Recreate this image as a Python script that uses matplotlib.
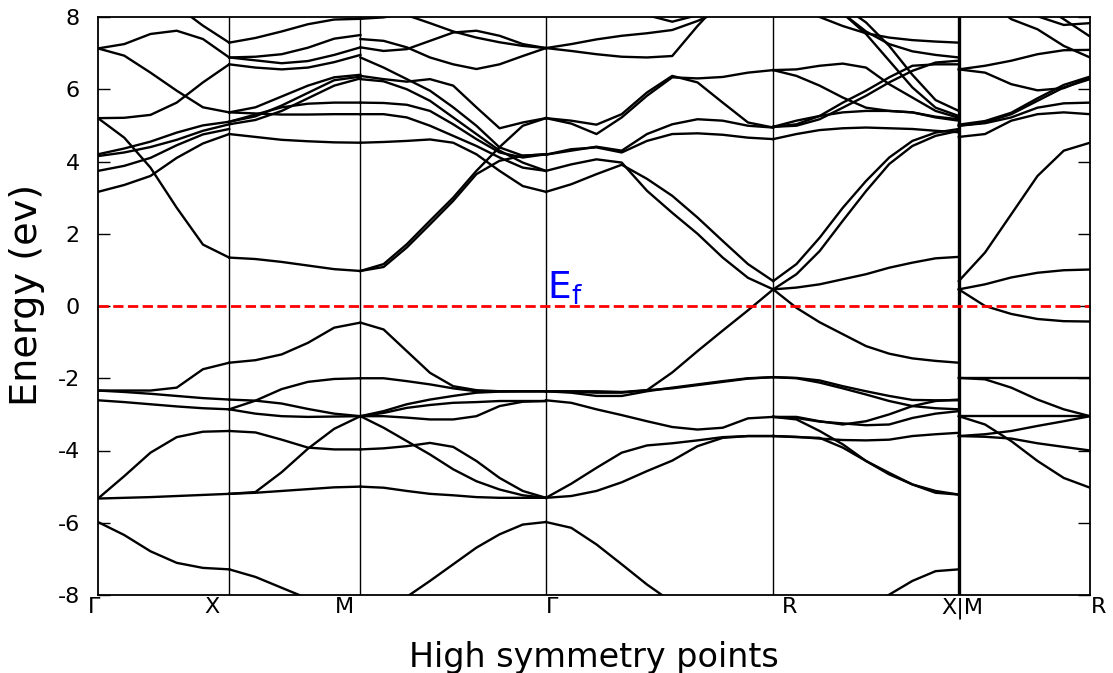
import numpy as np
import matplotlib
matplotlib.use('Agg')
import matplotlib.pyplot as plt

plt.rcParams['axes.unicode_minus'] = False
plt.rcParams['mathtext.fontset'] = 'dejavusans'

# path lengths (2pi/a): G-X, X-M, M-G, G-R, R-X, M-R
seg_len = [0.5, 0.5, np.sqrt(0.5), np.sqrt(0.75), np.sqrt(0.5), 0.5]
k_nodes = np.concatenate([[0.0], np.cumsum(seg_len)])

sym_labels = ['Γ', 'X', 'M', 'Γ', 'R', 'X|M', 'R']
label_k = [-0.015, 0.434, 0.941, 1.730, 2.637, 3.293, 3.814]
yticks = [8, 6, 4, 2, 0, -2, -4, -6, -8]

# energies (eV) read along each segment, evenly spaced in k
gamma_x = [
    [7.13, 7.25, 7.53, 7.62, 7.39, 6.88],
    [7.13, 6.93, 6.46, 5.96, 5.50, 5.36],
    [5.20, 5.21, 5.29, 5.63, 6.19, 6.69],
    [5.20, 4.66, 3.83, 2.72, 1.70, 1.34],
    [9.20, 9.00, 8.70, 8.30, 7.76, 7.29],
    [4.20, 4.36, 4.55, 4.80, 5.00, 5.10],
    [4.15, 4.25, 4.40, 4.60, 4.85, 5.03],
    [3.74, 3.88, 4.10, 4.45, 4.75, 4.90],
    [3.16, 3.35, 3.60, 4.10, 4.50, 4.76],
    [-2.34, -2.34, -2.34, -2.26, -1.75, -1.57],
    [-2.34, -2.38, -2.43, -2.49, -2.55, -2.59],
    [-2.61, -2.66, -2.72, -2.78, -2.83, -2.86],
    [-5.33, -4.71, -4.06, -3.63, -3.48, -3.46],
    [-5.33, -5.31, -5.29, -5.26, -5.23, -5.20],
    [-5.98, -6.34, -6.79, -7.11, -7.25, -7.29],
]

x_m = [
    [7.29, 7.42, 7.60, 7.80, 7.93, 7.95],
    [6.88, 6.90, 6.97, 7.15, 7.40, 7.50],
    [6.88, 6.80, 6.72, 6.78, 6.95, 7.16],
    [6.69, 6.60, 6.55, 6.60, 6.75, 6.95],
    [5.36, 5.50, 5.80, 6.10, 6.33, 6.40],
    [5.10, 5.25, 5.55, 5.90, 6.25, 6.35],
    [5.03, 5.15, 5.40, 5.75, 6.10, 6.30],
    [5.10, 5.30, 5.50, 5.60, 5.63, 5.63],
    [5.36, 5.33, 5.30, 5.30, 5.31, 5.31],
    [4.76, 4.68, 4.60, 4.56, 4.53, 4.52],
    [1.34, 1.30, 1.22, 1.12, 1.02, 0.97],
    [-1.57, -1.50, -1.34, -1.02, -0.60, -0.46],
    [-2.86, -2.62, -2.30, -2.10, -2.02, -2.00],
    [-2.59, -2.62, -2.70, -2.85, -2.98, -3.05],
    [-2.86, -2.98, -3.05, -3.07, -3.06, -3.05],
    [-3.46, -3.50, -3.70, -3.92, -3.97, -3.97],
    [-5.20, -5.15, -4.60, -3.95, -3.40, -3.05],
    [-5.20, -5.17, -5.12, -5.07, -5.02, -5.00],
    [-7.29, -7.50, -7.80, -8.10, -8.40, -8.60],
]

m_gamma = [
    [8.60, 8.35, 8.05, 7.83, 7.60, 7.43, 7.30, 7.20, 7.14],
    [7.39, 7.34, 7.16, 6.88, 6.69, 6.56, 6.69, 6.92, 7.14],
    [7.16, 7.06, 7.11, 7.34, 7.57, 7.62, 7.48, 7.25, 7.14],
    [7.95, 7.99, 8.10, 8.30, 8.50, 8.70, 8.90, 9.00, 9.10],
    [6.88, 6.60, 6.28, 5.96, 5.50, 4.99, 4.39, 4.16, 4.20],
    [6.37, 6.28, 6.21, 6.28, 6.10, 5.50, 4.92, 5.08, 5.20],
    [6.28, 6.22, 6.00, 5.68, 5.22, 4.76, 4.30, 3.97, 3.74],
    [5.63, 5.62, 5.57, 5.40, 5.03, 4.62, 4.25, 4.11, 4.20],
    [5.31, 5.31, 5.22, 4.99, 4.71, 4.43, 4.11, 3.83, 3.74],
    [4.52, 4.54, 4.57, 4.61, 4.52, 4.20, 3.74, 3.32, 3.16],
    [0.97, 1.16, 1.71, 2.36, 3.00, 3.74, 4.40, 4.99, 5.20],
    [0.97, 1.08, 1.62, 2.26, 2.91, 3.65, 4.02, 4.16, 4.20],
    [-0.46, -0.65, -1.25, -1.85, -2.22, -2.33, -2.36, -2.36, -2.36],
    [-2.00, -2.00, -2.08, -2.17, -2.28, -2.36, -2.36, -2.36, -2.36],
    [-3.05, -2.91, -2.72, -2.59, -2.49, -2.40, -2.37, -2.36, -2.36],
    [-3.05, -2.96, -2.82, -2.74, -2.68, -2.66, -2.63, -2.63, -2.63],
    [-3.05, -3.05, -3.09, -3.14, -3.14, -3.05, -2.77, -2.65, -2.63],
    [-3.05, -3.37, -3.74, -4.11, -4.52, -4.85, -5.08, -5.24, -5.31],
    [-3.97, -3.94, -3.88, -3.79, -3.90, -4.29, -4.76, -5.12, -5.31],
    [-5.00, -5.03, -5.12, -5.20, -5.24, -5.29, -5.31, -5.31, -5.31],
    [-8.60, -8.30, -8.05, -7.61, -7.15, -6.69, -6.32, -6.05, -5.98],
]

gamma_r = [
    [7.14, 7.25, 7.38, 7.48, 7.55, 7.64, 7.89, 8.20, 8.50, 8.80],
    [7.14, 7.06, 6.97, 6.90, 6.88, 6.92, 7.75, 8.50, 9.00, 9.30],
    [9.00, 8.80, 8.60, 8.30, 8.05, 7.87, 8.05, 8.40, 8.70, 9.00],
    [5.20, 5.05, 4.76, 5.22, 5.82, 6.33, 6.30, 6.34, 6.46, 6.53],
    [5.20, 5.13, 5.02, 5.31, 5.91, 6.37, 6.19, 5.63, 5.08, 4.94],
    [4.19, 4.30, 4.41, 4.30, 4.76, 5.03, 5.17, 5.13, 4.99, 4.94],
    [4.19, 4.34, 4.39, 4.25, 4.57, 4.76, 4.78, 4.74, 4.66, 4.62],
    [3.74, 3.92, 4.06, 3.97, 3.19, 2.58, 2.00, 1.34, 0.78, 0.46],
    [3.16, 3.37, 3.65, 3.91, 3.52, 3.05, 2.45, 1.80, 1.16, 0.69],
    [-2.36, -2.37, -2.40, -2.40, -2.33, -1.84, -1.25, -0.68, -0.12, 0.46],
    [-2.36, -2.40, -2.49, -2.49, -2.36, -2.26, -2.17, -2.08, -2.00, -1.97],
    [-2.36, -2.36, -2.36, -2.38, -2.33, -2.28, -2.19, -2.10, -2.01, -1.97],
    [-2.61, -2.68, -2.86, -3.02, -3.19, -3.35, -3.42, -3.37, -3.11, -3.07],
    [-5.31, -4.92, -4.48, -4.06, -3.86, -3.80, -3.72, -3.63, -3.60, -3.60],
    [-5.31, -5.26, -5.12, -4.88, -4.57, -4.28, -3.88, -3.65, -3.60, -3.60],
    [-5.98, -6.14, -6.60, -7.15, -7.71, -8.20, -8.60, -8.90, -9.10, -9.20],
]

r_x = [
    [6.53, 6.55, 6.65, 6.71, 6.60, 6.14, 5.77, 5.40, 5.21],
    [6.53, 6.37, 6.10, 5.77, 5.49, 5.40, 5.36, 5.24, 5.17],
    [4.96, 4.99, 5.17, 5.49, 5.82, 6.19, 6.51, 6.74, 6.79],
    [4.96, 5.03, 5.26, 5.63, 5.96, 6.33, 6.65, 6.69, 6.69],
    [4.96, 5.13, 5.26, 5.36, 5.40, 5.40, 5.36, 5.22, 5.13],
    [4.62, 4.76, 4.87, 4.92, 4.94, 4.92, 4.90, 4.85, 4.81],
    [0.69, 1.16, 1.89, 2.72, 3.46, 4.11, 4.57, 4.80, 4.90],
    [0.46, 0.88, 1.52, 2.36, 3.18, 3.93, 4.43, 4.71, 4.85],
    [0.46, 0.51, 0.60, 0.74, 0.88, 1.06, 1.20, 1.32, 1.36],
    [8.60, 8.30, 8.00, 7.75, 7.55, 7.43, 7.36, 7.32, 7.29],
    [9.20, 8.90, 8.50, 8.10, 7.60, 7.25, 7.05, 6.95, 6.88],
    [9.30, 9.00, 8.60, 8.10, 7.53, 6.79, 6.05, 5.49, 5.26],
    [9.50, 9.20, 8.80, 8.30, 7.85, 7.20, 6.40, 5.70, 5.40],
    [0.46, -0.05, -0.45, -0.78, -1.11, -1.32, -1.45, -1.52, -1.57],
    [-1.97, -1.99, -2.06, -2.22, -2.36, -2.49, -2.60, -2.61, -2.61],
    [-1.97, -2.00, -2.12, -2.28, -2.45, -2.63, -2.77, -2.83, -2.86],
    [-3.07, -3.07, -3.19, -3.28, -3.19, -3.00, -2.77, -2.63, -2.59],
    [-3.07, -3.14, -3.46, -3.83, -4.29, -4.66, -4.94, -5.12, -5.22],
    [-3.60, -3.63, -3.65, -3.92, -4.29, -4.62, -4.94, -5.17, -5.22],
    [-3.60, -3.62, -3.67, -3.71, -3.72, -3.70, -3.60, -3.55, -3.51],
    [-3.07, -3.10, -3.20, -3.25, -3.30, -3.28, -3.10, -2.98, -2.91],
    [-9.50, -9.30, -9.00, -8.70, -8.40, -7.99, -7.61, -7.34, -7.29],
]

m_r = [
    [6.55, 6.65, 6.79, 6.97, 7.08, 7.09],
    [6.55, 6.46, 6.14, 5.97, 6.03, 6.33],
    [4.99, 5.08, 5.31, 5.68, 6.05, 6.28],
    [5.02, 5.12, 5.35, 5.75, 6.12, 6.35],
    [4.99, 5.06, 5.22, 5.49, 5.61, 5.63],
    [4.68, 4.76, 5.13, 5.31, 5.36, 5.31],
    [0.69, 1.48, 2.54, 3.60, 4.30, 4.52],
    [0.46, 0.60, 0.79, 0.92, 0.99, 1.01],
    [9.00, 8.50, 7.94, 7.66, 7.20, 6.88],
    [9.20, 8.90, 8.50, 8.02, 7.78, 7.83],
    [9.40, 9.20, 8.80, 8.40, 7.94, 7.46],
    [0.46, 0.00, -0.22, -0.36, -0.42, -0.43],
    [-1.99, -1.99, -1.99, -1.99, -1.99, -1.99],
    [-1.99, -2.03, -2.26, -2.59, -2.86, -3.05],
    [-3.05, -3.05, -3.05, -3.05, -3.05, -3.05],
    [-3.60, -3.55, -3.46, -3.32, -3.19, -3.05],
    [-3.60, -3.62, -3.67, -3.80, -3.90, -4.00],
    [-3.05, -3.28, -3.74, -4.29, -4.76, -5.03],
]

segments = [gamma_x, x_m, m_gamma, gamma_r, r_x, m_r]

fig = plt.figure(figsize=(11.13, 6.73), dpi=100)
ax = fig.add_axes([98 / 1113, 78 / 673, 992 / 1113, 578 / 673])

for i, bands in enumerate(segments):
    k = np.linspace(k_nodes[i], k_nodes[i + 1], len(bands[0]))
    for e in bands:
        ax.plot(k, e, color='black', lw=1.7, solid_joinstyle='round')

for i, kk in enumerate(k_nodes[1:-1]):
    ax.axvline(kk, color='black', lw=2.4 if i == 4 else 1.0)

ax.axhline(0, color='red', ls='--', lw=2)
ax.text(k_nodes[3] + 0.005, 0.19, r'$\mathrm{E_f}$', color='blue', fontsize=27,
        ha='left', va='baseline')

ax.set_xlim(k_nodes[0], k_nodes[-1])
ax.set_ylim(-8, 8)
ax.set_xticks([])
ax.set_yticks(yticks)
ax.set_yticklabels([str(v) for v in yticks])
ax.tick_params(axis='y', direction='in', length=8.5, width=1.0, left=True, right=True,
               labelsize=16, pad=13)
for s in ax.spines.values():
    s.set_linewidth(1.3)

for lab, kk in zip(sym_labels, label_k):
    ax.text(kk, -0.004, lab, transform=ax.get_xaxis_transform(), ha='center', va='top',
            fontsize=16, clip_on=False)

fig.text(37 / 1113, 1 - 295 / 673, 'Energy (ev)', rotation=90, rotation_mode='anchor',
         ha='center', va='baseline', fontsize=27.5)
fig.text(594 / 1113, 1 - 667 / 673, 'High symmetry points', ha='center', va='baseline',
         fontsize=24)

fig.savefig('out.png', dpi=100)
